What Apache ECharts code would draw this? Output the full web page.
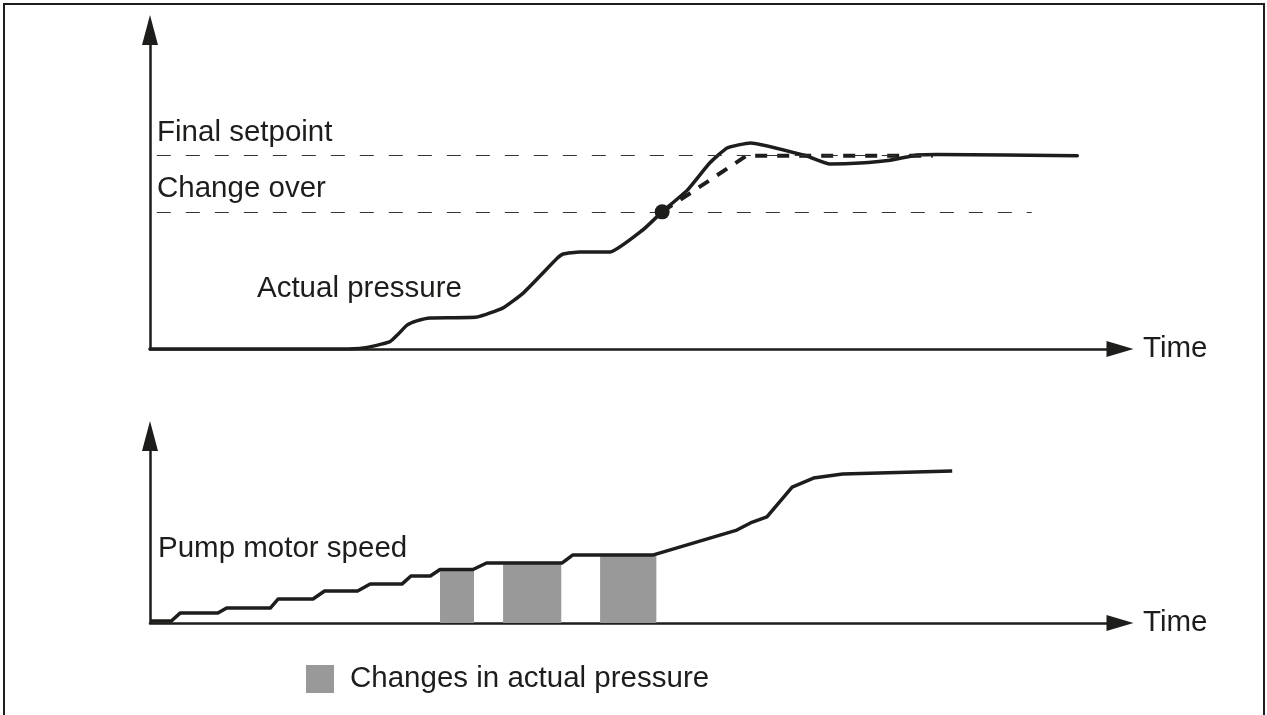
<!DOCTYPE html>
<html>
<head>
<meta charset="utf-8">
<title>Pump pressure control</title>
<script src="https://cdn.jsdelivr.net/npm/echarts@6/dist/echarts.min.js"></script>
<style>
  html, body { margin: 0; padding: 0; background: #ffffff; }
  #chart { width: 1267px; height: 715px; }
</style>
</head>
<body>
<div id="chart"></div>
<script>
// Actual pressure over time (upper panel)
const pressureTime = [0, 19.6, 22.0, 24.7, 25.6, 26.5, 27.5, 28.9, 33.7, 36.4, 38.5, 42.0, 42.6, 44.3, 47.4, 50.8, 52.8, 55.4, 57.7, 59.5, 61.9, 67.7, 70.1, 73.2, 76.3, 79.1, 81.1, 95.6];
const pressure     = [0, 0, 0.3, 2.2, 4.7, 7.5, 8.8, 9.7, 10.0, 12.9, 17.6, 28.5, 29.8, 30.4, 30.4, 37.3, 43.0, 49.8, 58.3, 63.0, 64.6, 60.5, 58.0, 58.3, 59.2, 60.8, 61.0, 60.6];

// Setpoint ramp after change over
const rampTime  = [52.8, 61.5, 80.7];
const rampValue = [43.0, 60.6, 60.6];

// Reference levels
const finalSetpoint = 60.6;
const changeOver = 43.0;
const setpointSpan = [0.7, 80.7];
const changeOverSpan = [0.7, 90.9];
const changeOverPoint = [52.8, 43.0];

// Pump motor speed (lower panel)
const speedTime = [0, 2.2, 3.1, 7.0, 7.9, 12.4, 13.2, 16.8, 18.0, 21.4, 22.7, 26.0, 26.9, 28.9, 29.9, 33.3, 34.7, 42.5, 43.6, 51.9, 60.5, 61.9, 63.6, 66.2, 68.4, 71.4, 82.7];
const speed     = [1.1, 1.1, 5.3, 5.3, 8.0, 8.0, 12.8, 12.8, 17.1, 17.1, 20.9, 20.9, 25.1, 25.1, 28.6, 28.6, 32.1, 32.1, 36.4, 36.4, 49.7, 53.5, 56.7, 72.7, 77.5, 79.7, 81.3];

// Intervals where the actual pressure changes
const changeStart = [29.9, 36.4, 46.4];
const changeEnd   = [33.4, 42.4, 52.2];
const changeLevel = [28.6, 32.1, 36.4];

const INK = '#1d1d1b';
const GREY = '#999999';
const FONT = 'Liberation Sans, Arial, sans-serif';
const FS = 29.5;

const zip = (xs, ys) => xs.map((x, i) => [x, ys[i]]);

const chart = echarts.init(document.getElementById('chart'), null, { renderer: 'canvas' });

function axisX(gridIndex) {
  return {
    gridIndex, type: 'value', min: 0, max: 100,
    axisLine: { show: true, onZero: true, symbol: ['none', 'triangle'], symbolSize: [16, 27],
      lineStyle: { color: INK, width: 2.5 } },
    axisTick: { show: false }, axisLabel: { show: false }, splitLine: { show: false },
    name: 'Time', nameLocation: 'end', nameGap: 23,
    nameTextStyle: { color: INK, fontFamily: FONT, fontSize: FS, verticalAlign: 'middle' }
  };
}
function axisY(gridIndex) {
  return {
    gridIndex, type: 'value', min: 0, max: 100,
    axisLine: { show: true, onZero: true, symbol: ['none', 'triangle'], symbolSize: [16, 30],
      lineStyle: { color: INK, width: 2.5 } },
    axisTick: { show: false }, axisLabel: { show: false }, splitLine: { show: false }
  };
}

const label = (text, x, y) => ({
  type: 'text', x, y, z: 50,
  style: { text, fill: INK, font: FS + 'px ' + FONT, align: 'left', verticalAlign: 'middle' }
});

chart.setOption({
  backgroundColor: '#ffffff',
  animation: false,
  grid: [
    { left: 150, top: 30, width: 970, height: 319 },
    { left: 150, top: 436, width: 970, height: 187 }
  ],
  xAxis: [axisX(0), axisX(1)],
  yAxis: [axisY(0), axisY(1)],
  legend: {
    left: 306, top: 664, padding: 0,
    icon: 'rect', itemWidth: 28, itemHeight: 28,
    data: ['Changes in actual pressure'],
    textStyle: { color: INK, fontFamily: FONT, fontSize: FS, padding: [0, 0, 6, 11] },
    selectedMode: false
  },
  graphic: [
    { type: 'rect', shape: { x: 4, y: 4, width: 1260, height: 720 },
      style: { fill: 'none', stroke: INK, lineWidth: 2 }, z: 0 },
    label('Final setpoint', 157, 133),
    label('Change over', 157, 189),
    label('Actual pressure', 257, 289),
    label('Pump motor speed', 158, 549)
  ],
  series: [
    {
      name: 'Reference levels', type: 'line', xAxisIndex: 0, yAxisIndex: 0,
      data: [], silent: true,
      markLine: {
        silent: true, symbol: ['none', 'none'], label: { show: false },
        lineStyle: { color: '#333333', width: 1, type: [14, 15] },
        data: [
          [{ coord: [setpointSpan[0], finalSetpoint] }, { coord: [setpointSpan[1], finalSetpoint] }],
          [{ coord: [changeOverSpan[0], changeOver] }, { coord: [changeOverSpan[1], changeOver] }]
        ]
      }
    },
    {
      name: 'Setpoint ramp', type: 'line', xAxisIndex: 0, yAxisIndex: 0,
      data: zip(rampTime, rampValue), showSymbol: false, z: 3,
      lineStyle: { color: INK, width: 4, type: [12, 10] }
    },
    {
      name: 'Actual pressure', type: 'line', xAxisIndex: 0, yAxisIndex: 0,
      data: zip(pressureTime, pressure), showSymbol: false, smooth: 0.15, z: 4,
      lineStyle: { color: INK, width: 3.5, cap: 'round', join: 'round' }
    },
    {
      name: 'Change over point', type: 'scatter', xAxisIndex: 0, yAxisIndex: 0,
      data: [changeOverPoint], symbolSize: 15, z: 5,
      itemStyle: { color: INK, opacity: 1 }
    },
    {
      name: 'Changes in actual pressure', type: 'custom', xAxisIndex: 1, yAxisIndex: 1,
      data: changeStart.map((s, i) => [s, changeEnd[i], changeLevel[i]]),
      encode: { x: [0, 1], y: 2 }, z: 1,
      itemStyle: { color: GREY },
      renderItem(params, api) {
        const p0 = api.coord([api.value(0), 0]);
        const p1 = api.coord([api.value(1), api.value(2)]);
        return {
          type: 'rect',
          shape: { x: p0[0], y: p1[1], width: p1[0] - p0[0], height: p0[1] - p1[1] },
          style: { fill: api.visual('color') }
        };
      }
    },
    {
      name: 'Pump motor speed', type: 'line', xAxisIndex: 1, yAxisIndex: 1,
      data: zip(speedTime, speed), showSymbol: false, z: 4,
      lineStyle: { color: INK, width: 3.5, join: 'round' }
    }
  ]
});
</script>
</body>
</html>
